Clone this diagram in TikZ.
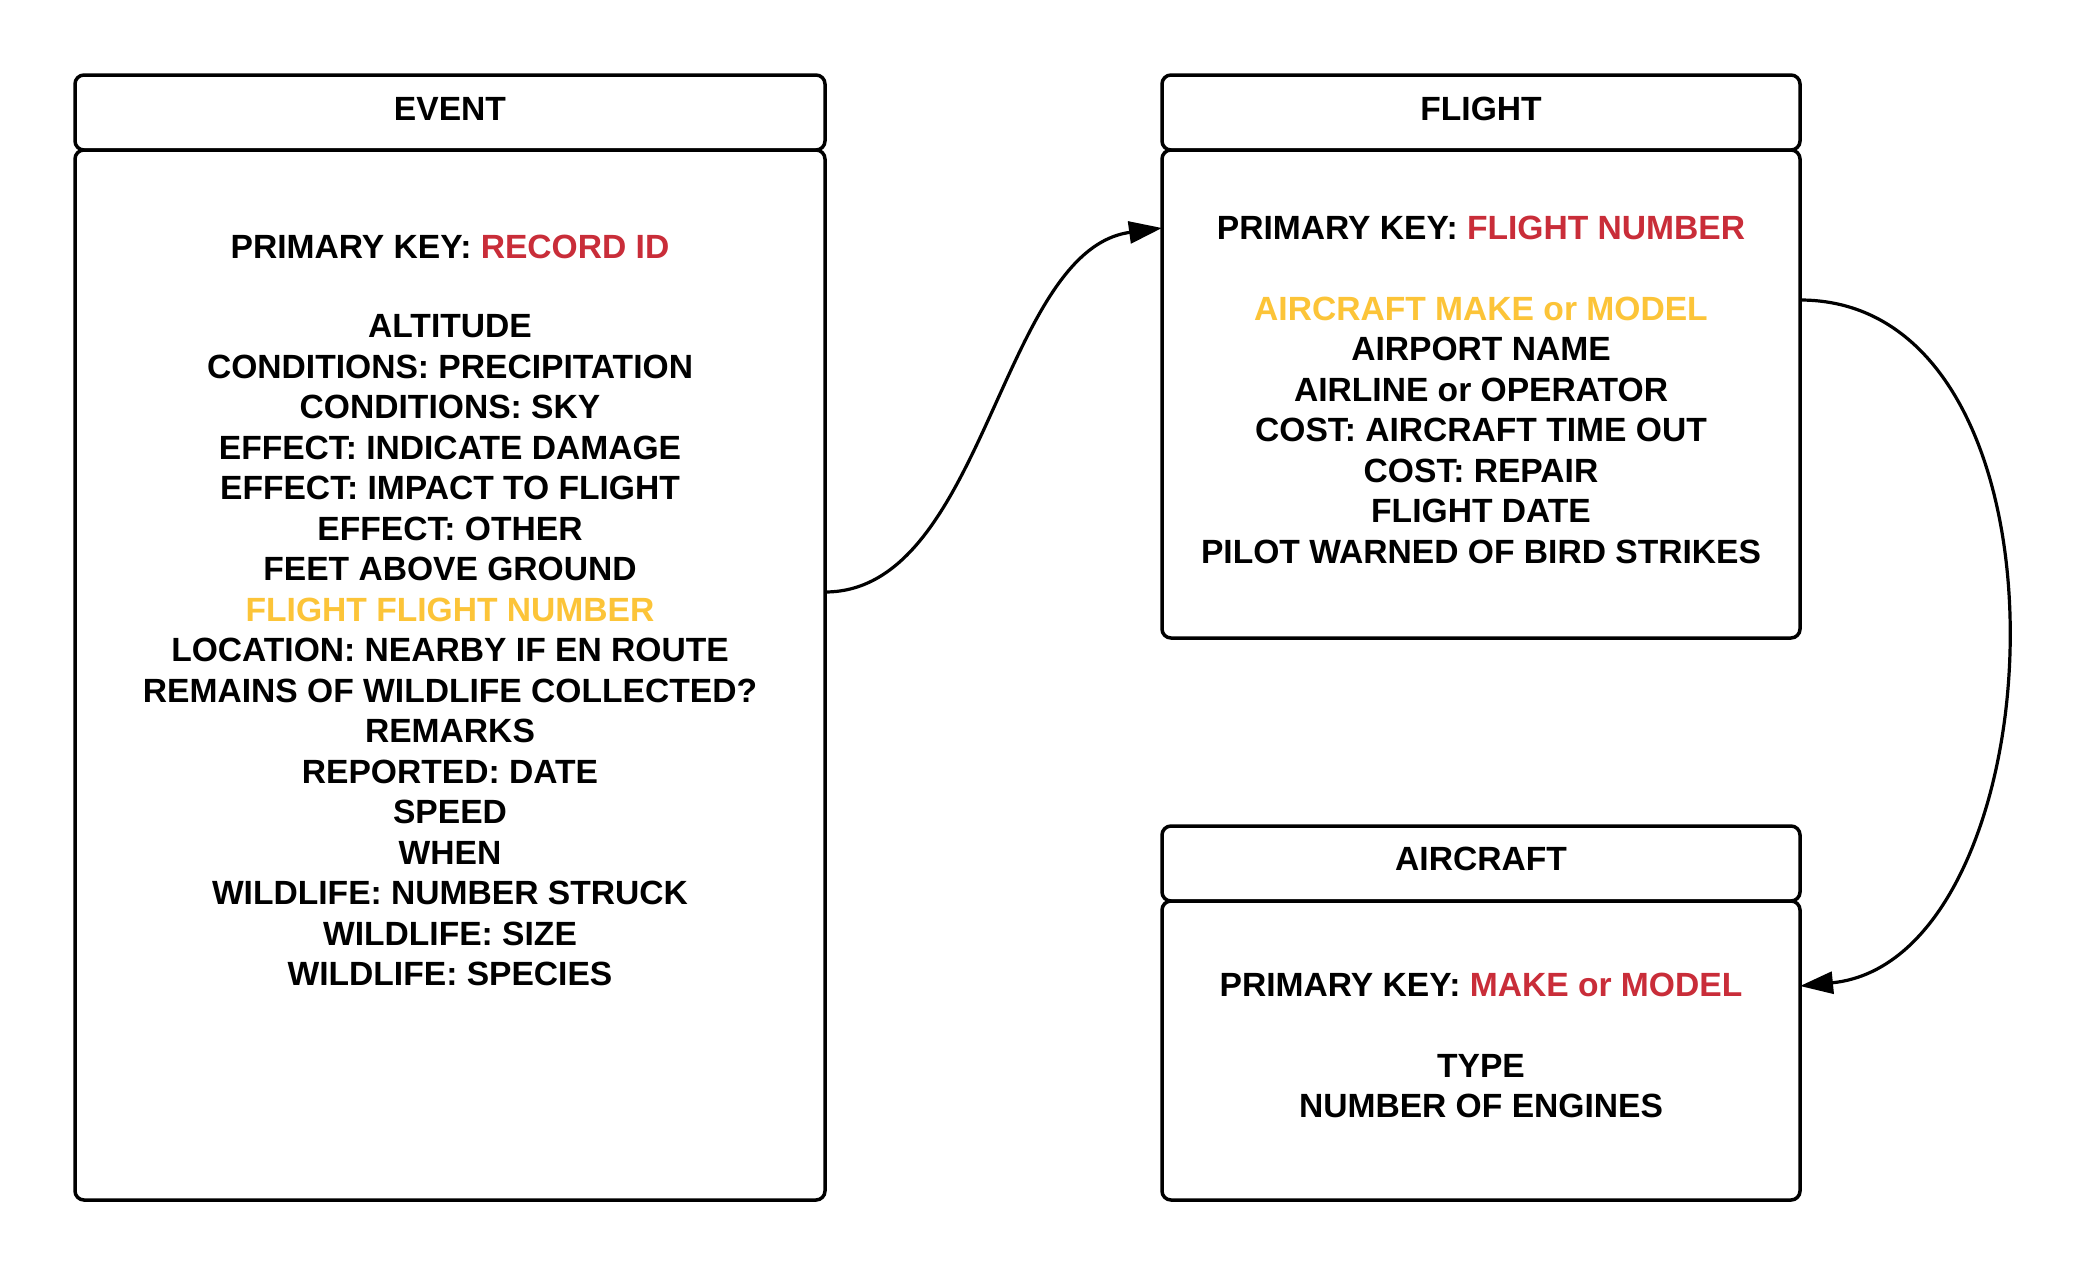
\documentclass[tikz,border=0pt]{standalone}
\usepackage{fontspec}
\setmainfont{Liberation Sans}
\usetikzlibrary{arrows.meta}
\definecolor{lcred}{HTML}{C92D39}
\definecolor{lcyel}{HTML}{FCC438}
\tikzset{
  boxpart/.style={draw=black, line width=3.5pt, rounded corners=9pt, fill=white, inner sep=0pt, outer sep=0pt},
  txt/.style={anchor=base, inner sep=0pt, font=\fontsize{33.6}{40}\selectfont\bfseries},
  conn/.style={line width=3.2pt, -{Triangle[length=33pt,width=22pt]}},
}
\begin{document}
\begin{tikzpicture}[x=1pt,y=-1pt]
\useasboundingbox (0,0) rectangle (2083,1275);
% EVENT
\node[boxpart, minimum width=750pt, minimum height=75pt] (evh) at (450,112.5) {};
\node[boxpart, minimum width=750pt, minimum height=1050pt] (evb) at (450,675) {};
% FLIGHT
\node[boxpart, minimum width=638pt, minimum height=75pt] (flh) at (1481,112.5) {};
\node[boxpart, minimum width=638pt, minimum height=488pt] (flb) at (1481,394) {};
% AIRCRAFT
\node[boxpart, minimum width=638pt, minimum height=75pt] (ach) at (1481,863.5) {};
\node[boxpart, minimum width=638pt, minimum height=299pt] (acb) at (1481,1050.5) {};

% titles
\node[txt] (evt) at (450,120) {EVENT};
\node[txt] (flt) at (1481,120) {FLIGHT};
\node[txt] (act) at (1481,870) {AIRCRAFT};

% EVENT body
\node[txt] (e0) at (450,258) {PRIMARY KEY: \textcolor{lcred}{RECORD ID}};
\node[txt] (e1) at (450,337.5) {ALTITUDE};
\node[txt] (e2) at (450,378) {CONDITIONS: PRECIPITATION};
\node[txt] (e3) at (450,418.5) {CONDITIONS: SKY};
\node[txt] (e4) at (450,459) {EFFECT: INDICATE DAMAGE};
\node[txt] (e5) at (450,499.5) {EFFECT: IMPACT TO FLIGHT};
\node[txt] (e6) at (450,540) {EFFECT: OTHER};
\node[txt] (e7) at (450,580.5) {FEET ABOVE GROUND};
\node[txt, text=lcyel] (e8) at (450,621) {FLIGHT FLIGHT NUMBER};
\node[txt] (e9) at (450,661.5) {LOCATION: NEARBY IF EN ROUTE};
\node[txt] (e10) at (450,702) {REMAINS OF WILDLIFE COLLECTED?};
\node[txt] (e11) at (450,742.5) {REMARKS};
\node[txt] (e12) at (450,783) {REPORTED: DATE};
\node[txt] (e13) at (450,823.5) {SPEED};
\node[txt] (e14) at (450,864) {WHEN};
\node[txt] (e15) at (450,904.5) {WILDLIFE: NUMBER STRUCK};
\node[txt] (e16) at (450,945) {WILDLIFE: SIZE};
\node[txt] (e17) at (450,985.5) {WILDLIFE: SPECIES};

% FLIGHT body
\node[txt] (f0) at (1481,239) {PRIMARY KEY: \textcolor{lcred}{FLIGHT NUMBER}};
\node[txt, text=lcyel] (f1) at (1481,320) {AIRCRAFT MAKE or MODEL};
\node[txt] (f2) at (1481,360.5) {AIRPORT NAME};
\node[txt] (f3) at (1481,401) {AIRLINE or OPERATOR};
\node[txt] (f4) at (1481,441.5) {COST: AIRCRAFT TIME OUT};
\node[txt] (f5) at (1481,482) {COST: REPAIR};
\node[txt] (f6) at (1481,522.5) {FLIGHT DATE};
\node[txt] (f7) at (1481,563) {PILOT WARNED OF BIRD STRIKES};

% AIRCRAFT body
\node[txt] (a0) at (1481,996) {PRIMARY KEY: \textcolor{lcred}{MAKE or MODEL}};
\node[txt] (a1) at (1481,1077) {TYPE};
\node[txt] (a2) at (1481,1117.5) {NUMBER OF ENGINES};

% connectors
\draw[conn] ([yshift=83pt]evb.east) .. controls +(160,0) and +(-162,22) .. ([yshift=166pt]flb.west);
\draw[conn] ([yshift=94pt]flb.east) .. controls +(290,0) and +(260,-26) .. ([yshift=64.5pt]acb.east);
\end{tikzpicture}
\end{document}
